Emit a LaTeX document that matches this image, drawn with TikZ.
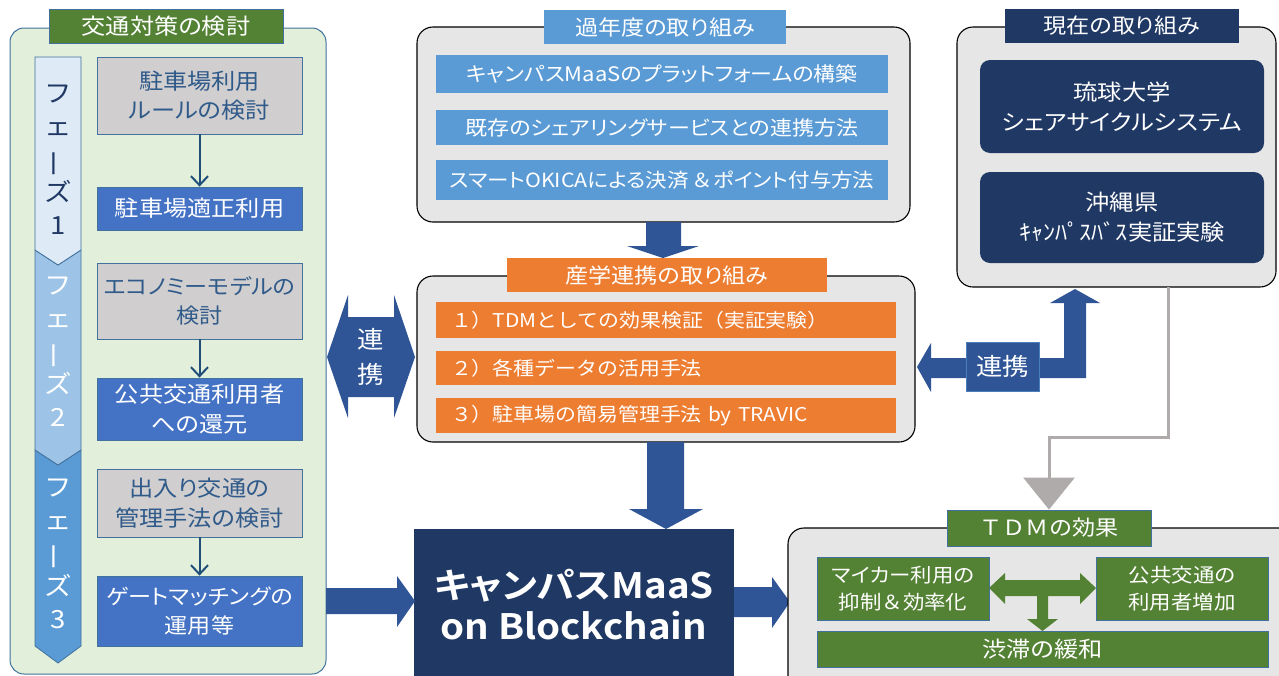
\documentclass[tikz,border=0pt]{standalone}
\usepackage{fontspec}
\usepackage{graphicx}
\setmainfont{Noto Sans CJK JP}[RawFeature=+palt,FakeStretch=1.1,BoldFont={Noto Sans CJK JP Bold}]
\newfontfamily\fw{Noto Sans CJK JP}[FakeStretch=1.1]
\usetikzlibrary{arrows.meta}
\newcommand\fsz[2]{\fontsize{#1}{#2}\selectfont}
\newcommand\vbar{\rotatebox[origin=c]{90}{ー}}

\definecolor{panelL}{HTML}{E2EFDA}
\definecolor{panelLine}{HTML}{41719C}
\definecolor{greenT}{HTML}{548235}
\definecolor{grayBox}{HTML}{D0CECE}
\definecolor{grayText}{HTML}{2F5A8A}
\definecolor{blueBox}{HTML}{4472C4}
\definecolor{midBlue}{HTML}{5B9BD5}
\definecolor{phA}{HTML}{DEEBF7}
\definecolor{phB}{HTML}{9DC3E6}
\definecolor{phC}{HTML}{5B9BD5}
\definecolor{orangeB}{HTML}{ED7D31}
\definecolor{navy}{HTML}{203864}
\definecolor{arrowBlue}{HTML}{2F5597}
\definecolor{panelGray}{HTML}{E7E6E6}
\definecolor{connGray}{HTML}{AFABAB}
\definecolor{thinArrow}{HTML}{1F4E79}

\begin{document}
\begin{tikzpicture}[x=1pt,y=-1pt,
  box/.style={rectangle, inner sep=0pt, align=center, text=white},
  ttl/.style={box, draw=panelLine, line width=0.8pt, minimum height=34pt, font=\fsz{21}{26}},
  gbox/.style={box, fill=grayBox, draw=panelLine, line width=0.8pt, text=grayText,
               minimum width=205pt, font=\fsz{22}{29.5}},
  bbox/.style={box, fill=blueBox, draw=panelLine, line width=0.8pt,
               minimum width=205pt, font=\fsz{22}{29.5}},
  phase/.style={draw=panelLine, line width=0.8pt},
  phtext/.style={box, font=\fsz{25}{33}},
  panel/.style={draw=black, line width=1.1pt, fill=panelGray, rounded corners=16pt},
  item/.style={box, fill=midBlue, minimum width=452pt, font=\fsz{20}{24}},
  oitem/.style={box, fill=orangeB, text width=430pt, inner xsep=15pt, align=left, font=\fw\fsz{19}{24}},
  nbox/.style={box, fill=navy, rounded corners=10pt, minimum width=284pt, font=\fsz{22}{30}},
  gritem/.style={box, fill=greenT, draw=panelLine, line width=0.8pt, font=\fsz{19.5}{27}},
  blk/.style={fill=arrowBlue},
  thin/.style={draw=thinArrow, line width=2pt, -{Straight Barb[length=9pt,width=17pt]}},
  conn/.style={draw=connGray, line width=3pt, -{Triangle[length=32pt,width=51pt]}}
]
\useasboundingbox (0,0) rectangle (1279,675);

% ---------- left column: traffic measures ----------
\path[fill=panelL, draw=panelLine, line width=1pt, rounded corners=14pt] (10,28) rectangle (326,674);
\node[ttl, fill=greenT, minimum width=234pt, font=\fsz{22}{26}] (tL) at (166,26.5) {交通対策の検討};

\path[phase, fill=phC] (35,450) -- (58,465) -- (81,450) -- (81,646) -- (58,663) -- (35,646) -- cycle;
\path[phase, fill=phB] (35,250) -- (58,265) -- (81,250) -- (81,450) -- (58,465) -- (35,450) -- cycle;
\path[phase, fill=phA] (35,57) -- (81,57) -- (81,250) -- (58,265) -- (35,250) -- cycle;
\node[phtext, text=navy] (ph1) at (58,160) {フ\\ェ\\\vbar\\ズ\\1};
\node[phtext] (ph2) at (58,352) {フ\\ェ\\\vbar\\ズ\\2};
\node[phtext] (ph3) at (58,554) {フ\\ェ\\\vbar\\ズ\\3};

\node[gbox, minimum height=77pt] (g1) at (199.5,95.5) {駐車場利用\\ルールの検討};
\node[bbox, minimum height=43pt] (b1) at (199.5,208.5) {駐車場適正利用};
\node[gbox, minimum height=76pt, font=\fsz{21}{29.5}] (g2) at (199.5,301) {エコノミーモデルの\\検討};
\node[bbox, minimum height=62pt] (b2) at (199.5,409) {公共交通利用者\\への還元};
\node[gbox, minimum height=68pt] (g3) at (199.5,503) {出入り交通の\\管理手法の検討};
\node[bbox, minimum height=70pt, font=\fsz{21}{29.5}] (b3) at (199.5,611) {ゲートマッチングの\\運用等};
\draw[thin] (g1) -- (b1);
\draw[thin] (g2) -- (b2);
\draw[thin] (g3) -- (b3);

% ---------- previous years ----------
\path[panel] (417,27) rectangle (910,222);
\node[ttl, fill=midBlue, draw=none, minimum width=242pt] (tP) at (665,27) {過年度の取り組み};
\node[item, minimum height=38pt] (p1) at (662,74) {キャンパスMaaSのプラットフォームの構築};
\node[item, minimum height=35pt] (p2) at (662,127.5) {既存のシェアリングサービスとの連携方法};
\node[item, minimum height=40pt, font=\fsz{19.5}{24}] (p3) at (662,180) {スマートOKICAによる決済\,{\fw ＆}ポイント付与方法};

% arrow down to industry-academia block
\path[blk] (646,222) -- (681,222) -- (681,246) -- (699,246) -- (663,258) -- (627,246) -- (646,246) -- cycle;

% ---------- industry-academia collaboration ----------
\path[panel] (417,276) rectangle (915,442);
\node[ttl, fill=orangeB, draw=none, minimum width=320pt] (tM) at (667,275) {産学連携の取り組み};
\node[oitem, minimum height=36pt] (m1) at (666,320) {１）TDMとしての効果検証（実証実験）};
\node[oitem, minimum height=34pt] (m2) at (666,368) {２）各種データの活用手法};
\node[oitem, minimum height=35pt] (m3) at (666,415.5) {３）駐車場の簡易管理手法 by TRAVIC};

% double arrow between left column and collaboration block
\path[blk] (327,357) -- (348,295) -- (348,317) -- (394,317) -- (394,295) -- (415,357)
  -- (394,418) -- (394,397) -- (348,397) -- (348,418) -- cycle;
\node[box, font=\fsz{24}{35}] (lk1) at (371,357) {連\\携};

% ---------- current activities ----------
\path[panel] (957,27) rectangle (1276,287);
\node[ttl, fill=navy, draw=none, minimum width=234pt] (tR) at (1122,26) {現在の取り組み};
\node[nbox, minimum height=93pt] (r1) at (1122,106.5) {琉球大学\\シェアサイクルシステム};
\node[nbox, minimum height=91pt] (r2) at (1122,217.5) {沖縄県\\{\fw ｷｬﾝﾊﾟｽﾊﾞｽ}実証実験};

% L-shaped link arrow
\path[blk] (917,367) -- (931,343) -- (931,358) -- (1064,358) -- (1064,303) -- (1050,303)
  -- (1075,289) -- (1100,303) -- (1086,303) -- (1086,378) -- (931,378) -- (931,392) -- cycle;
\node[box, fill=arrowBlue, draw=midBlue!60!arrowBlue, line width=0.6pt, minimum width=73pt,
      minimum height=49pt, font=\fsz{24}{30}] (lk2) at (1002.5,366.5) {連携};

% ---------- central system ----------
\node[box, fill=navy, minimum width=320pt, minimum height=151pt,
      font=\bfseries\fsz{35}{41}] (maas) at (574,604.5) {キャンパスMaaS\\on Blockchain};
\path[blk] (647,442) -- (684,442) -- (684,509) -- (703,509) -- (666,529) -- (629,509) -- (647,509) -- cycle;
\path[blk] (326,588) -- (397,588) -- (397,576) -- (415,601) -- (397,627) -- (397,614) -- (326,614) -- cycle;
\path[blk] (734,587) -- (772,587) -- (772,577) -- (790,602) -- (772,628) -- (772,617) -- (734,617) -- cycle;

% ---------- TDM effects ----------
\path[panel] (788,528) rectangle (1300,700);
\node[ttl, fill=greenT, minimum width=204pt, minimum height=36pt, font=\fw\fsz{21}{26}] (tT) at (1049,528) {ＴＤＭの効果};
\node[gritem, minimum width=172pt, minimum height=63pt] (e1) at (903,588.5) {マイカー利用の\\抑制{\fw ＆}効率化};
\node[gritem, minimum width=172pt, minimum height=63pt] (e2) at (1182,588.5) {公共交通の\\利用者増加};
\node[gritem, minimum width=451pt, minimum height=36pt, font=\fsz{22}{27}] (e3) at (1042.5,649) {渋滞の緩和};
\path[fill=greenT] (989,588) -- (1005,573) -- (1005,580) -- (1080,580) -- (1080,573) -- (1096,588)
  -- (1080,604) -- (1080,596) -- (1048,596) -- (1048,619) -- (1058,619) -- (1042.5,631)
  -- (1027,619) -- (1037,619) -- (1037,596) -- (1005,596) -- (1005,604) -- cycle;

% feedback from current activities to TDM effects
\coordinate (gs) at (1168,287);
\coordinate (gb) at (1168,437);
\draw[conn] (gs) -- (gb) -| (tT.north);
\end{tikzpicture}
\end{document}
